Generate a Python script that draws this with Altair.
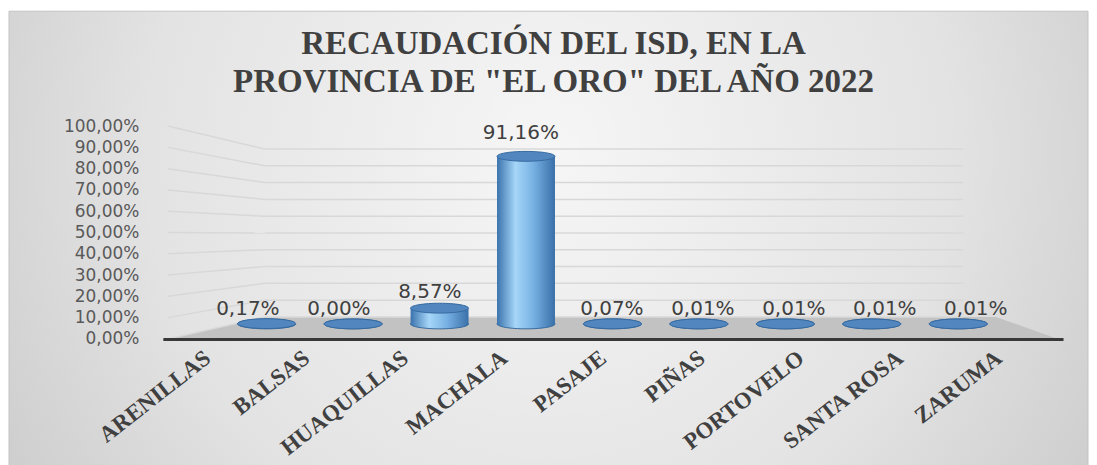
import altair as alt
import pandas as pd

# ---- data ----
cats = ["ARENILLAS", "BALSAS", "HUAQUILLAS", "MACHALA", "PASAJE",
        "PIÑAS", "PORTOVELO", "SANTA ROSA", "ZARUMA"]
vals = [0.0017, 0.0000, 0.0857, 0.9116, 0.0007, 0.0001, 0.0001, 0.0001, 0.0001]
y_ticks = [0.0, 0.1, 0.2, 0.3, 0.4, 0.5, 0.6, 0.7, 0.8, 0.9, 1.0]
title_lines = ["RECAUDACIÓN DEL ISD, EN LA", 'PROVINCIA DE "EL ORO" DEL AÑO 2022']

# ---- layout ----
W, H = 901, 213
xs = alt.Scale(domain=[-0.5, 8.5], nice=False, zero=False)
ys = alt.Scale(domain=[0, 1], nice=False, zero=False)

x_labels = "[" + ",".join("'" + c + "'" for c in cats) + "][datum.value]"
x_axis = alt.Axis(values=list(range(len(cats))), labelExpr=x_labels, title=None,
                  grid=False, ticks=False, tickSize=0, domain=True,
                  domainColor="#383838", domainWidth=3,
                  labelAngle=-38, labelAlign="right", labelBaseline="middle",
                  labelPadding=16, labelOffset=-10,
                  labelFont="Liberation Serif", labelFontWeight="bold",
                  labelFontSize=23, labelColor="#404040",
                  labelFlush=False, labelOverlap=False, labelBound=False, zindex=1)
y_axis = alt.Axis(values=y_ticks, title=None,
                  labelExpr="replace(format(datum.value, '.2%'), '.', ',')",
                  grid=False, ticks=False, tickSize=0, domain=False,
                  labelPadding=24, labelFont="DejaVu Sans", labelFontSize=17,
                  labelColor="#595959", labelFlush=False, labelOverlap=False,
                  labelBound=False, zindex=1)


def X(field):
    return alt.X(field, scale=xs, axis=x_axis)


def Y(field):
    return alt.Y(field, scale=ys, axis=y_axis)


df = pd.DataFrame({"cat": cats, "val": vals, "i": list(range(len(cats)))})
grid_df = pd.DataFrame({"g": y_ticks})
floor_df = pd.DataFrame({"u": [-0.5, 0.479, 7.871, 8.5],
                         "t": [0.0, 0.1033, 0.1033, 0.0],
                         "b": [0.0, 0.0, 0.0, 0.0]})
one = pd.DataFrame({"a": [0]})

bg_grad = {"gradient": "radial", "x1": 0.5, "y1": 0.42, "r1": 0,
           "x2": 0.5, "y2": 0.42, "r2": 0.62,
           "stops": [{"offset": 0, "color": "#f6f6f6"},
                     {"offset": 0.6, "color": "#e3e3e3"},
                     {"offset": 1, "color": "#cacaca"}]}
cyl_grad = {"gradient": "linear", "x1": 0, "y1": 0, "x2": 1, "y2": 0,
            "stops": [{"offset": 0, "color": "#3b73ad"},
                      {"offset": 0.32, "color": "#a6d6f8"},
                      {"offset": 0.62, "color": "#78b2e4"},
                      {"offset": 1, "color": "#3a70a8"}]}
ellipse = "M -1 0 A 1 0.17 0 1 0 1 0 A 1 0.17 0 1 0 -1 0 Z"

background = alt.Chart(one).mark_rect(fill=bg_grad, stroke="#c4c4c4", strokeWidth=1).encode(
    x=alt.value(-154), x2=alt.value(W + 25), y=alt.value(-115), y2=alt.value(H + 127))

floor = alt.Chart(floor_df).mark_area(color="#c2c2c2").encode(
    x=X("u:Q"), y=Y("t:Q"), y2="b:Q")

grid_calc = alt.Chart(grid_df).transform_calculate(
    back="0.1033 + 0.789 * datum.g", uL="-0.5", uB="0.479", uR="7.541")

grid_h = grid_calc.mark_rule(color="#d8d8d8", strokeWidth=1.5).encode(
    x=X("uB:Q"), x2="uR:Q", y=Y("back:Q"))
grid_s = grid_calc.mark_rule(color="#d8d8d8", strokeWidth=1.5).encode(
    x=X("uL:Q"), x2="uB:Q", y=Y("g:Q"), y2="back:Q")

base = alt.Chart(df).transform_calculate(
    u="0.499 + 0.874 * datum.i",
    lu="0.309 + 0.920 * datum.i",
    base="0.0704",
    top="0.0704 + 0.864 * datum.val",
    ly="0.141 + 0.906 * datum.val",
    lab="replace(format(datum.val, '.2%'), '.', ',')")

bottom_ell = base.mark_point(shape=ellipse, filled=True, fill=cyl_grad, size=3364,
                             opacity=1, stroke="#35689e", strokeWidth=1).encode(
    x=X("u:Q"), y=Y("base:Q"))

body = base.mark_bar(size=58, fill=cyl_grad).encode(
    x=X("u:Q"), y=Y("top:Q"), y2="base:Q")

top_ell = base.mark_point(shape=ellipse, filled=True, fill="#5186bf", size=3364,
                          opacity=1, stroke="#35689e", strokeWidth=1).encode(
    x=X("u:Q"), y=Y("top:Q"))

labels = base.mark_text(font="DejaVu Sans", fontSize=20, color="#404040",
                        align="center", baseline="middle").encode(
    x=X("lu:Q"), y=Y("ly:Q"), text="lab:N")

t1 = alt.Chart(pd.DataFrame({"t": [title_lines[0]]})).mark_text(
    font="Liberation Serif", fontWeight="bold", fontSize=33, color="#404040",
    align="center", baseline="alphabetic").encode(
    text="t:N", x=alt.value(391), y=alt.value(-72))
t2 = alt.Chart(pd.DataFrame({"t": [title_lines[1]]})).mark_text(
    font="Liberation Serif", fontWeight="bold", fontSize=33, color="#404040",
    align="center", baseline="alphabetic").encode(
    text="t:N", x=alt.value(391), y=alt.value(-34))

chart = alt.layer(background, floor, grid_h, grid_s, bottom_ell, body, top_ell,
                  labels, t1, t2).properties(
    width=W, height=H,
    padding={"left": 0, "top": 2, "right": 0, "bottom": 0}
).configure_view(stroke=None)

chart.save("out.html", embed_options={"renderer": "svg", "actions": False})
